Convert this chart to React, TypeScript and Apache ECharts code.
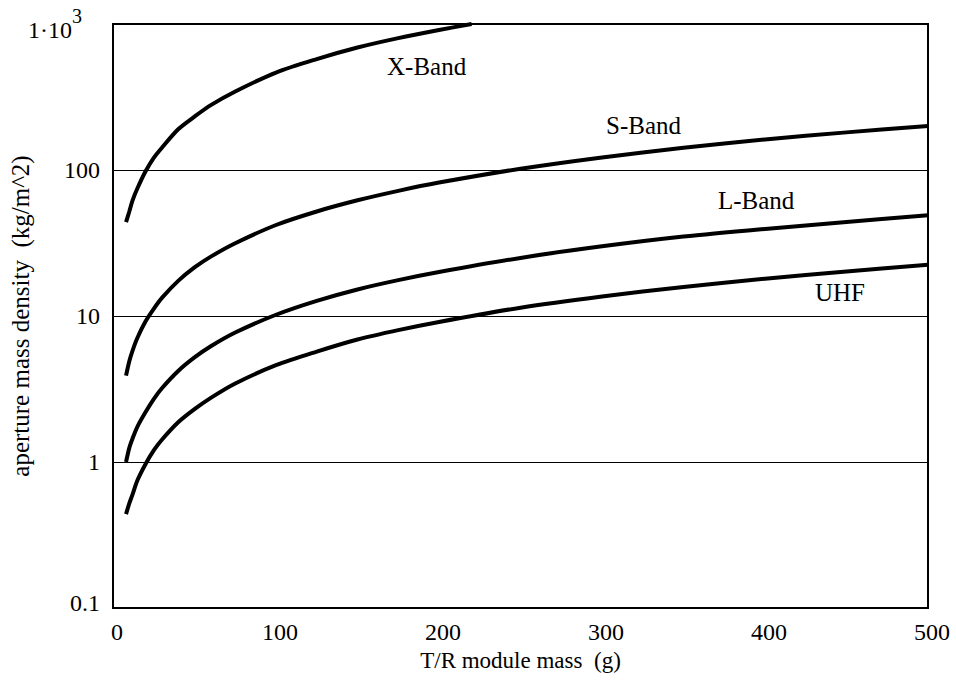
import React, { useEffect, useRef } from "react";
import * as echarts from "echarts";

const massX: number[] = [8, 10, 12, 15, 20, 25, 30, 40, 50, 60, 75, 100, 125, 150, 175, 200, 220];
const xBand: number[] = [44, 52, 62, 75, 98, 121, 142, 190, 232, 278, 345, 465, 575, 690, 800, 910, 1000];

const mass: number[] = [8, 10, 12, 15, 20, 25, 30, 40, 50, 60, 75, 100, 125, 150, 175, 200, 250, 300, 350, 400, 450, 500];
const sBand: number[] = [3.9, 4.9, 5.8, 7.1, 9.2, 11.2, 13.3, 17.4, 21.5, 25.5, 31.5, 42, 52, 62, 72, 82, 102, 122, 142, 162, 181, 200];
const lBand: number[] = [1.0, 1.25, 1.45, 1.75, 2.2, 2.7, 3.2, 4.2, 5.2, 6.2, 7.7, 10.2, 12.7, 15.2, 17.6, 20, 25, 30, 35, 39.5, 44, 49];
const uhf: number[] = [0.44, 0.52, 0.6, 0.75, 0.97, 1.2, 1.42, 1.87, 2.3, 2.75, 3.45, 4.6, 5.7, 6.9, 8.0, 9.1, 11.4, 13.6, 15.8, 18, 20.2, 22.4];

const bandNames: string[] = ["X-Band", "S-Band", "L-Band", "UHF"];
const xTitle = "T/R module mass  (g)";
const yTitle = "aperture mass density  (kg/m^2)";

const SERIF = "'Liberation Serif', 'DejaVu Serif', serif";

export default function App() {
  const ref = useRef<HTMLDivElement>(null);
  useEffect(() => {
    if (!ref.current) return;
    const chart = echarts.init(ref.current, undefined, { renderer: "svg" });
    const pair = (xs: number[], ys: number[]) => xs.map((x, i) => [x, ys[i]]);
    const lineStyle = { color: "#000", width: 4 };
    const mk = (name: string, data: number[][]) => ({
      name,
      type: "line",
      data,
      smooth: 0.3,
      symbol: "none",
      lineStyle,
      clip: true,
    });
    const band = (i: number, x: number, y: number) => ({
      type: "text",
      x,
      y,
      style: {
        text: bandNames[i],
        fontFamily: SERIF,
        fontSize: 25,
        fill: "#000",
        verticalAlign: "middle",
        align: "left",
      },
    });
    chart.setOption({
      animation: false,
      backgroundColor: "#fff",
      grid: {
        left: 113,
        right: 28,
        top: 24,
        bottom: 85,
        outerBoundsMode: "none",
        containLabel: false,
        show: true,
        borderColor: "#000",
        borderWidth: 2,
        backgroundColor: "transparent",
      },
      xAxis: {
        type: "value",
        min: 0,
        max: 500,
        interval: 100,
        name: xTitle,
        nameLocation: "middle",
        nameGap: 41,
        nameMoveOverlap: false,
        nameTextStyle: { fontFamily: SERIF, fontSize: 23, color: "#000" },
        axisLine: { show: true, lineStyle: { color: "#000", width: 2 } },
        axisTick: { show: false },
        splitLine: { show: false },
        axisLabel: {
          fontFamily: SERIF,
          fontSize: 24,
          color: "#000",
          margin: 12,
          padding: [0, 0, 0, 8],
        },
      },
      yAxis: {
        type: "log",
        logBase: 10,
        min: 0.1,
        max: 1000,
        name: yTitle,
        nameLocation: "middle",
        nameGap: 80,
        nameMoveOverlap: false,
        nameRotate: 90,
        nameTextStyle: { fontFamily: SERIF, fontSize: 25, color: "#000" },
        axisLine: { show: true, lineStyle: { color: "#000", width: 2 } },
        axisTick: { show: false },
        minorTick: { show: false },
        splitLine: { show: true, lineStyle: { color: "#000", width: 1 } },
        axisLabel: {
          fontFamily: SERIF,
          fontSize: 24,
          color: "#000",
          margin: 13,
          formatter: (v: number) => {
            if (v >= 999) return "{a|1·10}{s|3}";
            if (v < 0.5) return "{b|0.1}";
            return String(Math.round(v));
          },
          rich: {
            a: { fontFamily: SERIF, fontSize: 24, color: "#000", padding: [12, 0, 0, 0] },
            s: { fontFamily: SERIF, fontSize: 20, color: "#000", verticalAlign: "top", padding: [0, 18, 0, 0] },
            b: { fontFamily: SERIF, fontSize: 24, color: "#000", padding: [0, 0, 10, 0] },
          },
        },
      },
      graphic: [
        band(0, 387, 66),
        band(1, 606, 125),
        band(2, 718, 200),
        band(3, 815, 292),
      ],
      series: [
        mk(bandNames[0], pair(massX, xBand)),
        mk(bandNames[1], pair(mass, sBand)),
        mk(bandNames[2], pair(mass, lBand)),
        mk(bandNames[3], pair(mass, uhf)),
      ],
    });
    return () => chart.dispose();
  }, []);
  return (
    <div
      ref={ref}
      style={{ position: "absolute", left: 0, top: 0, width: 956, height: 693 }}
    />
  );
}
